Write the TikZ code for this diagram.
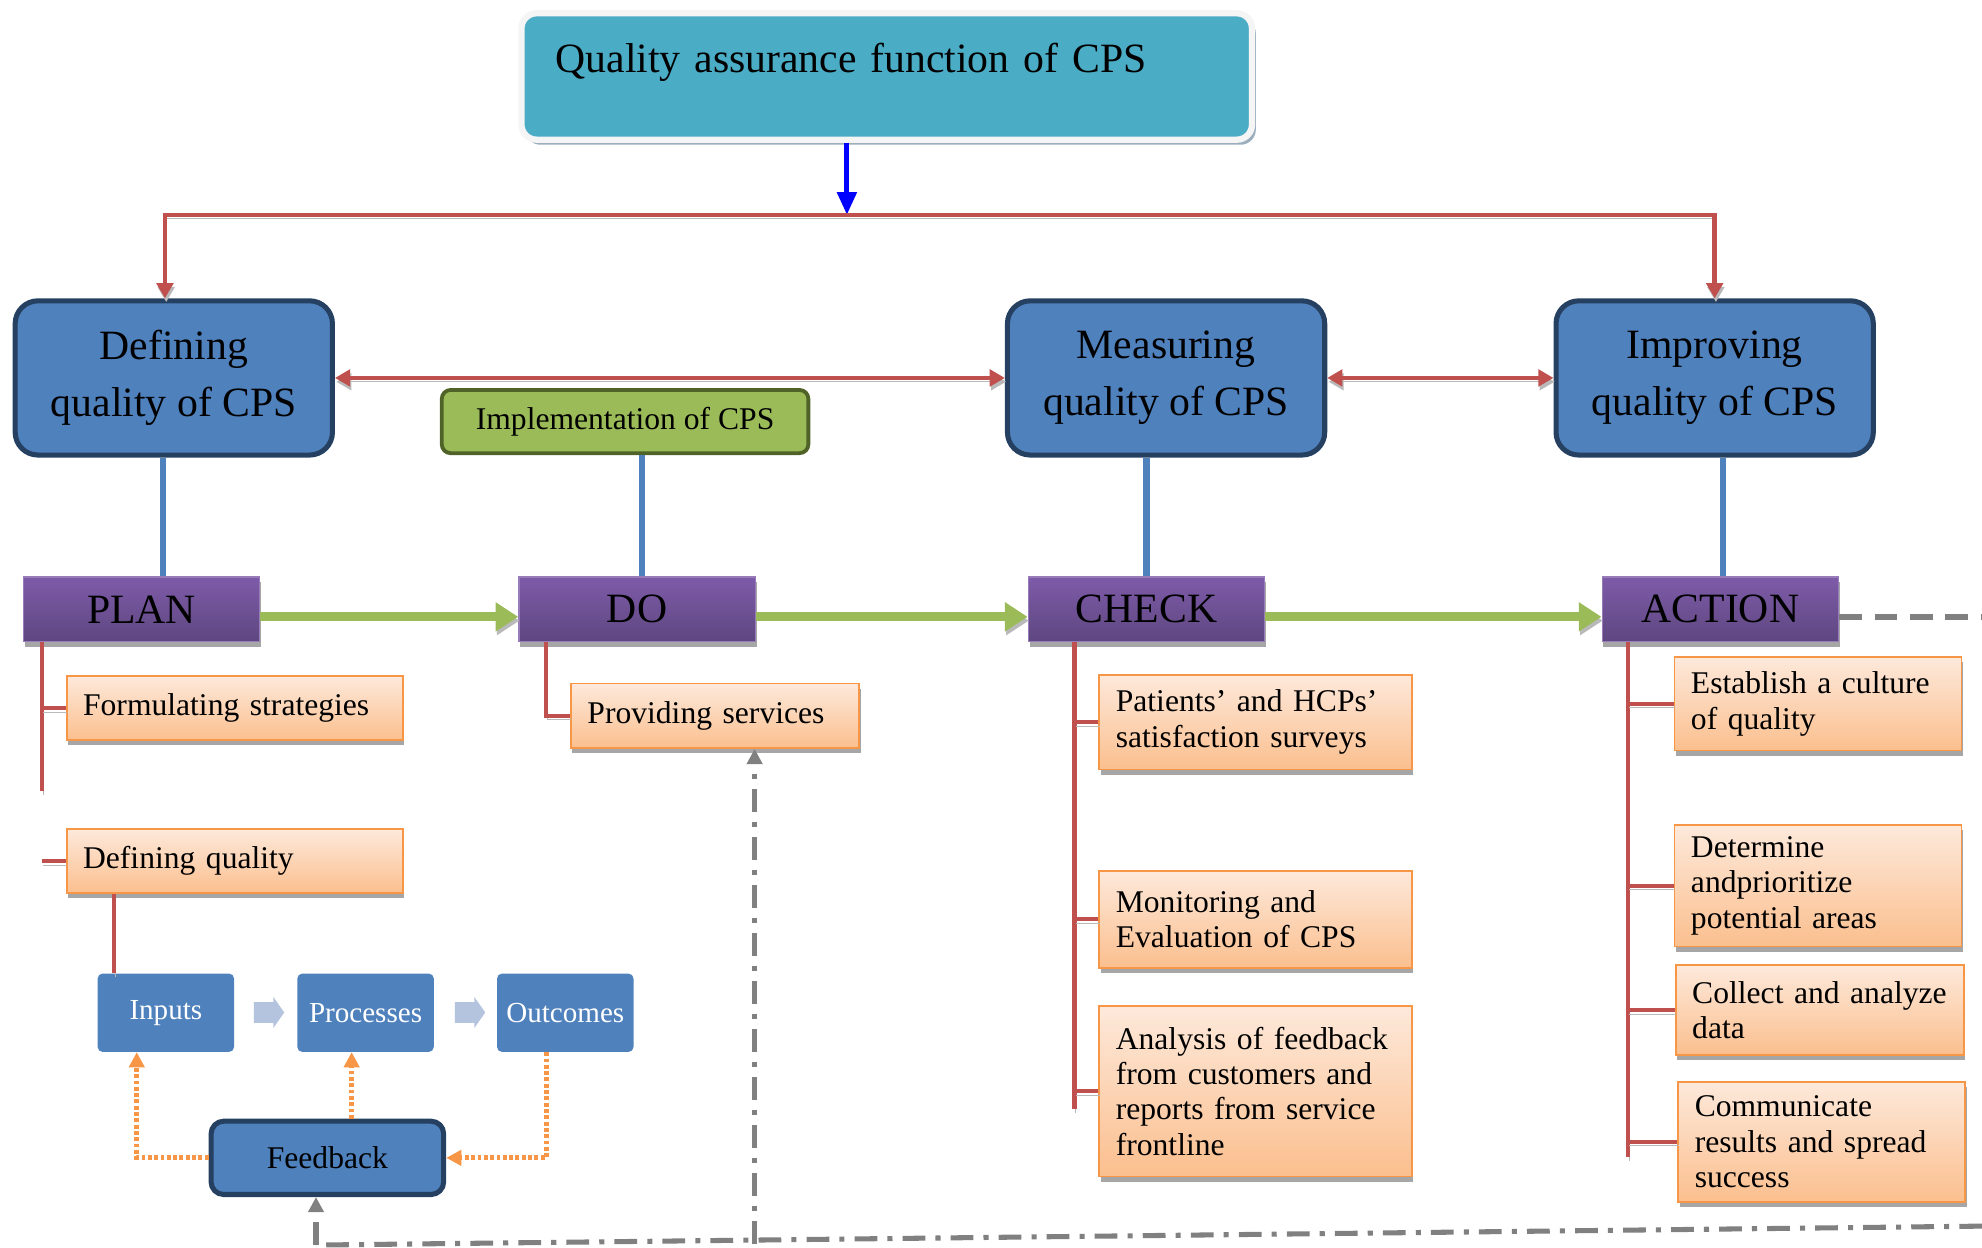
\documentclass[tikz,border=0pt]{standalone}
\usepackage{fontspec}
\setmainfont{Liberation Serif}
\usetikzlibrary{arrows.meta,shadows,shapes.arrows}

\definecolor{qateal}{HTML}{4BACC6}
\definecolor{qashadow}{HTML}{9AAEBE}
\definecolor{boxblue}{HTML}{4F81BD}
\definecolor{boxnavy}{HTML}{254061}
\definecolor{implgreen}{HTML}{9BBB59}
\definecolor{impldark}{HTML}{4F6228}
\definecolor{linkred}{HTML}{C0504D}
\definecolor{phasetop}{HTML}{7E5BA9}
\definecolor{phasebot}{HTML}{5E4780}
\definecolor{tasktop}{HTML}{FDE9DB}
\definecolor{taskbot}{HTML}{FBBF8E}
\definecolor{taskline}{HTML}{F79646}
\definecolor{chevronblue}{HTML}{B4C3DE}
\definecolor{loopgray}{HTML}{808080}

\begin{document}
\begin{tikzpicture}[x=1pt,y=-1pt,
  qa box/.style={rounded corners=12pt,fill=qateal,draw=gray!8,line width=5pt,
    drop shadow={shadow xshift=3pt,shadow yshift=-4pt,fill=qashadow,opacity=1},
    anchor=north west,align=left,text width=524pt,inner xsep=27pt,inner ysep=14pt,
    text height=33pt,text depth=39pt,font=\fontsize{33}{45}\selectfont},
  main box/.style={rounded corners=18pt,fill=boxblue,draw=boxnavy,line width=4pt,
    anchor=north west,minimum width=251pt,minimum height=122pt,align=center,
    font=\fontsize{33}{45}\selectfont},
  impl box/.style={rounded corners=7pt,fill=implgreen,draw=impldark,line width=3pt,
    anchor=north west,minimum width=290pt,minimum height=50pt,
    font=\fontsize{25}{30}\selectfont},
  phase/.style={top color=phasetop,bottom color=phasebot,draw=phasetop!80!white,
    line width=1pt,drop shadow={shadow xshift=1pt,shadow yshift=-4pt,fill=gray!70,opacity=1},
    anchor=north west,minimum width=187pt,minimum height=51pt,
    font=\fontsize{33}{40}\selectfont},
  task/.style={top color=tasktop,bottom color=taskbot,draw=taskline,line width=1.5pt,
    drop shadow={shadow xshift=1pt,shadow yshift=-4pt,fill=gray!70,opacity=1},
    anchor=north west,align=left,inner xsep=13pt,
    font=\fontsize{25}{28}\selectfont},
  flow box/.style={rounded corners=4pt,fill=boxblue,text=white,anchor=north west,
    minimum width=108pt,minimum height=62pt,font=\fontsize{23}{28}\selectfont},
  feedback box/.style={rounded corners=10pt,fill=boxblue,draw=boxnavy,line width=4pt,
    anchor=north west,minimum width=184pt,minimum height=58pt,
    font=\fontsize{25}{30}\selectfont},
  chevron/.style={single arrow,fill=chevronblue,draw=none,inner xsep=0pt,inner ysep=8pt,
    minimum height=24pt,single arrow head extend=4pt,single arrow tip angle=110},
  line shadow/.style={preaction={draw=gray!55,transform canvas={shift={(1pt,-3pt)}}}},
  link/.style={boxblue,line width=5pt},
  branch/.style={linkred,line width=3.5pt,line shadow},
  red arrow/.style={linkred,line width=3.5pt,line shadow,-{Triangle[length=12pt,width=13pt]}},
  both red/.style={linkred,line width=3.5pt,line shadow,
    {Triangle[length=12pt,width=13pt]}-{Triangle[length=12pt,width=13pt]}},
  down arrow/.style={blue,line width=4pt,-{Triangle[length=18pt,width=15pt]}},
  step arrow/.style={implgreen,line width=7pt,line shadow,-{Triangle[length=18pt,width=22pt]}},
  fb arrow/.style={taskline,line width=4pt,dash pattern=on 3pt off 2pt,
    -{Triangle[length=12pt,width=12pt]}},
  loop line/.style={loopgray,line width=4pt,dash pattern=on 18pt off 8pt on 4pt off 8pt},
  loop arrow/.style={loop line,-{Triangle[length=12pt,width=12pt]}},
  action dash/.style={loopgray,line width=5pt,dash pattern=on 18pt off 10pt}]

  \useasboundingbox (0,0) rectangle (1568,987);

  % top of the tree
  \node[qa box] (qa) at (410,8) {Quality assurance function of CPS};
  \coordinate (bus) at (670,170);

  \node[main box] (defining) at (10,236) {Defining\\quality of CPS};
  \node[main box] (measuring) at (795,236) {Measuring\\quality of CPS};
  \node[main box] (improving) at (1229,236) {Improving\\quality of CPS};
  \node[impl box] (impl) at (348,307) {Implementation of CPS};

  \draw[down arrow] (qa.south -| bus) -- (bus);
  \draw[red arrow] (bus) -| ([xshift=-7pt]defining.north);
  \draw[red arrow] (bus) -| (improving.north);
  \draw[both red] (defining.east) -- (measuring.west);
  \draw[both red] (measuring.east) -- (improving.west);

  % the cycle
  \node[phase] (plan) at (18,456) {PLAN};
  \node[phase] (do) at (410,456) {DO};
  \node[phase] (check) at (813,456) {CHECK};
  \node[phase] (action) at (1267,456) {ACTION};

  \draw[link] ([xshift=17pt]plan.north) -- ([xshift=17pt]plan.north |- defining.south);
  \draw[link] ([xshift=4pt]do.north) -- ([xshift=4pt]do.north |- impl.south);
  \draw[link] (check.north) -- (check.north |- measuring.south);
  \draw[link] ([xshift=2pt]action.north) -- ([xshift=2pt]action.north |- improving.south);

  \draw[step arrow] ([yshift=-6pt]plan.east) -- ([yshift=-6pt]do.west);
  \draw[step arrow] ([yshift=-6pt]do.east) -- ([yshift=-6pt]check.west);
  \draw[step arrow] ([yshift=-6pt]check.east) -- ([yshift=-6pt]action.west);

  % tasks of each step
  \node[task,text width=240pt,minimum height=51pt] (formulating) at (52,534) {Formulating strategies};
  \node[task,text width=240pt,minimum height=51pt] (defq) at (52,655) {Defining quality};
  \node[task,text width=202pt,minimum height=51pt] (providing) at (451,540) {Providing services};
  \node[task,text width=221pt,minimum height=75pt] (patients) at (869,533) {Patients’ and HCPs’\\satisfaction surveys};
  \node[task,text width=221pt,minimum height=77pt] (monitoring) at (869,688) {Monitoring and\\Evaluation of CPS};
  \node[task,text width=221pt,minimum height=135pt] (analysis) at (869,795) {Analysis of feedback\\from customers and\\reports from service\\frontline};
  \node[task,text width=201pt,minimum height=74pt] (establish) at (1324,519) {Establish a culture\\of quality};
  \node[task,text width=201pt,minimum height=96pt] (determine) at (1324,652) {Determine\\andprioritize\\potential areas};
  \node[task,text width=202pt,minimum height=71pt] (collect) at (1325,763) {Collect and analyze\\data};
  \node[task,text width=201pt,minimum height=95pt] (communicate) at (1327,855) {Communicate\\results and spread\\success};

  \coordinate (plan trunk) at ([xshift=15pt]plan.south west);
  \draw[branch] (plan trunk) -- ++(0,118);
  \draw[branch] (formulating.west) -- (formulating.west -| plan trunk);
  \draw[branch] (defq.west) -- (defq.west -| plan trunk);

  \coordinate (do trunk) at ([xshift=22pt]do.south west);
  \draw[branch] (do trunk) |- (providing.west);

  \coordinate (check trunk) at ([xshift=37pt]check.south west);
  \draw[branch] (check trunk) -- (check trunk |- analysis.west) -- ++(0,14);
  \foreach \t in {patients,monitoring,analysis}
    \draw[branch] (\t.west) -- (\t.west -| check trunk);

  \coordinate (action trunk) at ([xshift=21pt]action.south west);
  \draw[branch] (action trunk) -- (action trunk |- communicate.west) -- ++(0,12);
  \foreach \t in {establish,determine,collect,communicate}
    \draw[branch] (\t.west) -- (\t.west -| action trunk);

  % inputs, processes, outcomes
  \node[flow box] (inputs) at (77,770) {Inputs};
  \node[flow box] (processes) at (235,770) {Processes};
  \node[flow box] (outcomes) at (393,770) {Outcomes};
  \node[chevron] (ar1) at (210,801) {};
  \node[chevron] (ar2) at (369,801) {};
  \node[feedback box] (feedback) at (165,885) {Feedback};

  \draw[branch] ([xshift=13pt]inputs.north west) -- ([xshift=13pt]inputs.north west |- defq.south);
  \draw[fb arrow] (feedback.west) -| ([xshift=-23pt]inputs.south);
  \draw[fb arrow] ([xshift=-11pt]processes.south |- feedback.north) -- ([xshift=-11pt]processes.south);
  \draw[fb arrow] ([xshift=-15pt]outcomes.south) |- (feedback.east);

  % loop back
  \coordinate (right edge) at (1568,488);
  \coordinate (return) at (1568,970);
  \coordinate (corner) at (250,985);
  \coordinate (fork) at (597,984);
  \draw[action dash] ([yshift=-6pt]action.east) -- (right edge);
  \draw[loop line] (return) -- (corner);
  \draw[loop arrow] (corner) -- (corner |- feedback.south);
  \draw[loop arrow] (fork) -- (fork |- providing.south);

\end{tikzpicture}
\end{document}
